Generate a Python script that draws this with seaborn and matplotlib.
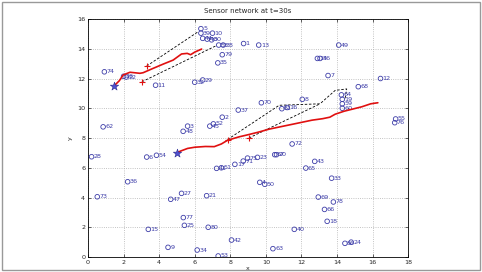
import matplotlib
matplotlib.use("Agg")
import matplotlib.pyplot as plt
import seaborn as sns
import pandas as pd
from matplotlib.patches import Rectangle

sns.set_style("ticks")
plt.rcParams['font.family'] = ['DejaVu Sans']

# sensor labels and positions
sensor_ids = ["5", "39", "10", "44", "46", "30", "58", "38", "1", "13", "79", "35",
              "32", "29", "74", "26", "22", "11", "62", "48", "3", "45", "52", "2",
              "37", "70", "81", "16", "8", "64", "19", "59", "60", "72", "67", "20",
              "43", "65", "33", "69", "78", "66", "18", "40", "86", "24", "63", "12",
              "49", "14", "56", "7", "68", "55", "76", "28", "6", "54", "36", "73",
              "27", "47", "21", "77", "25", "15", "80", "9", "34", "53", "42", "41",
              "51", "17", "71", "75", "23", "4", "50"]
sensor_x = [6.35, 6.35, 7.0, 6.45, 6.7, 6.95, 7.35, 7.6, 8.75, 9.6, 7.55, 7.3,
            6.0, 6.45, 0.92, 2.0, 2.15, 3.8, 0.85, 5.35, 5.6, 6.85, 7.05, 7.55,
            8.45, 9.75, 10.9, 11.2, 12.05, 14.25, 14.3, 14.3, 14.3, 11.48, 10.5, 10.6,
            12.75, 12.25, 13.7, 12.95, 13.8, 13.3, 13.45, 11.6, 14.45, 14.8, 10.4, 16.45,
            14.1, 12.9, 13.05, 13.5, 15.2, 17.3, 17.25, 0.2, 3.3, 3.85, 2.23, 0.52,
            5.26, 4.65, 6.67, 5.36, 5.42, 3.39, 6.76, 4.5, 6.14, 7.32, 8.07, 7.23,
            7.5, 8.26, 8.73, 8.97, 9.53, 9.66, 9.94]
sensor_y = [15.35, 15.05, 15.05, 14.7, 14.65, 14.6, 14.25, 14.25, 14.35, 14.25, 13.6, 13.05,
            11.75, 11.9, 12.45, 12.15, 12.1, 11.55, 8.75, 8.45, 8.8, 8.8, 8.95, 9.4,
            9.88, 10.37, 9.97, 10.05, 10.6, 10.9, 10.6, 10.3, 10.0, 7.6, 6.88, 6.88,
            6.43, 5.98, 5.3, 4.03, 3.7, 3.2, 2.4, 1.86, 0.92, 1.0, 0.56, 12.0,
            14.25, 13.35, 13.35, 12.2, 11.45, 9.28, 9.03, 6.74, 6.72, 6.84, 5.06, 4.05,
            4.28, 3.88, 4.12, 2.65, 2.13, 1.86, 2.0, 0.65, 0.47, 0.07, 1.14, 5.96,
            6.0, 6.23, 6.45, 6.65, 6.7, 5.02, 4.89]

# target trajectories (red)
track1_x = [1.48, 1.76, 1.98, 2.36, 2.92, 3.1, 3.58, 4.23, 4.79, 5.26, 5.58, 5.77, 6.01, 6.39]
track1_y = [11.52, 11.85, 12.24, 12.42, 12.35, 12.39, 12.64, 12.97, 13.24, 13.65, 13.69, 13.6, 13.78, 13.98]
track2_x = [4.98, 5.2, 5.6, 6.0, 6.6, 7.1, 7.5, 7.85, 8.5, 9.0, 9.6, 10.2, 10.8, 11.4,
            12.0, 12.6, 13.2, 13.6, 13.9, 14.4, 14.9, 15.4, 15.9, 16.3]
track2_y = [6.99, 7.12, 7.3, 7.38, 7.43, 7.42, 7.6, 7.85, 8.08, 8.22, 8.4, 8.6, 8.75, 8.9,
            9.05, 9.2, 9.3, 9.4, 9.6, 9.8, 9.95, 10.1, 10.3, 10.37]

# start positions (stars) and estimate points (+)
start_x = [1.48, 4.98]
start_y = [11.52, 6.99]
est_x = [3.3, 3.03, 7.85, 9.05]
est_y = [12.84, 11.78, 7.9, 8.0]

# dashed prediction regions
cone1a_x = [3.3, 6.2]
cone1a_y = [12.84, 15.15]
cone1b_x = [3.03, 7.2]
cone1b_y = [11.78, 14.2]
cone2a_x = [7.85, 10.75, 13.05, 13.9, 14.55, 14.45]
cone2a_y = [7.9, 10.2, 10.3, 11.2, 11.3, 10.6]
cone2b_x = [9.05, 13.05]
cone2b_y = [8.0, 10.3]

fig = plt.figure(figsize=(4.82, 2.72), dpi=100)
ax = fig.add_axes([0.1826, 0.0551, 0.664, 0.875])

fs = 4.6
blue = "#3c3ca8"

df = pd.DataFrame({"x": sensor_x, "y": sensor_y})
sns.scatterplot(data=df, x="x", y="y", ax=ax, marker="o", s=11,
                facecolors="none", edgecolor=blue, linewidth=0.6, zorder=3)
for lab, xx, yy in zip(sensor_ids, sensor_x, sensor_y):
    ax.text(xx + 0.12, yy, lab, fontsize=fs, color=blue, va="center", ha="left", zorder=4)

for cx, cy in [(cone1a_x, cone1a_y), (cone1b_x, cone1b_y), (cone2a_x, cone2a_y), (cone2b_x, cone2b_y)]:
    sns.lineplot(x=cx, y=cy, sort=False, ax=ax, color="black", lw=0.6,
                 dashes=False, linestyle=(0, (3, 2)), zorder=2)

sns.lineplot(x=track1_x, y=track1_y, sort=False, ax=ax, color="#e01010", lw=1.2, zorder=5)
sns.lineplot(x=track2_x, y=track2_y, sort=False, ax=ax, color="#e01010", lw=1.2, zorder=5)

sns.scatterplot(x=est_x, y=est_y, ax=ax, marker="+", s=14, color="#e01010", linewidth=0.8, zorder=6)
sns.scatterplot(x=start_x, y=start_y, ax=ax, marker="*", s=40, color="#5050d0",
                edgecolor="#2a2a90", linewidth=0.4, zorder=7)

ax.set_xlim(0, 18)
ax.set_ylim(0, 16)
ax.set_xticks(range(0, 19, 2))
ax.set_yticks(range(0, 17, 2))
ax.tick_params(direction="in", top=True, right=True, labelsize=fs, length=2.5, width=0.5, pad=2)
ax.grid(True, linestyle=":", color="#b0b0b0", lw=0.6)
for sp in ax.spines.values():
    sp.set_linewidth(0.6)
    sp.set_color("black")
ax.set_xlabel("x", fontsize=fs, labelpad=1)
ax.set_ylabel("y", fontsize=fs, labelpad=3)
ax.set_title("Sensor network at t=30s", fontsize=5, pad=4)

fig.patches.append(Rectangle((0.004, 0.006), 0.992, 0.987, transform=fig.transFigure,
                             fill=False, edgecolor="#999999", lw=1))

fig.savefig("out.png", dpi=100)
